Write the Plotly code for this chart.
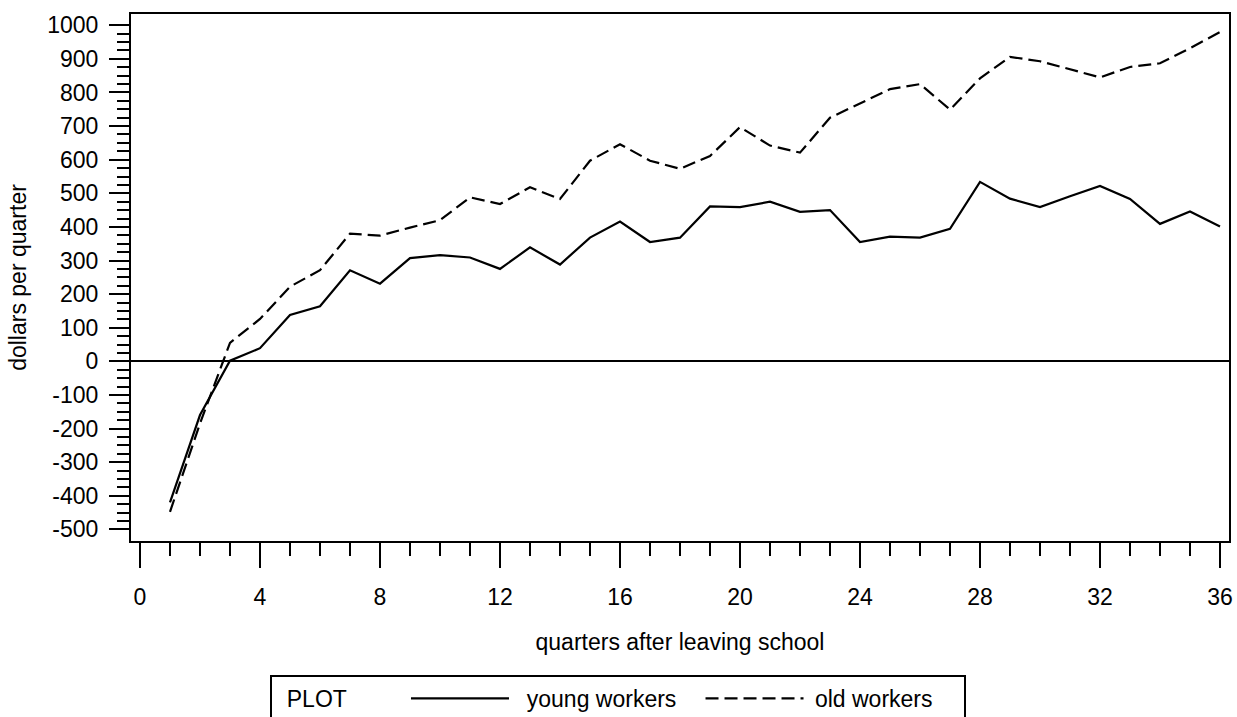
import plotly.graph_objects as go

quarters = list(range(1, 37))
young = [-420, -160, 2, 39, 138, 164, 271, 231, 307, 316, 309, 275,
         339, 288, 368, 416, 355, 368, 461, 459, 475, 445, 450, 355,
         371, 368, 394, 534, 484, 459, 491, 522, 483, 409, 446, 401]
old = [-448, -185, 55, 126, 222, 271, 380, 374, 398, 420, 488, 468,
       518, 483, 597, 646, 597, 573, 611, 697, 642, 621, 725, 767,
       810, 825, 749, 842, 906, 893, 868, 845, 876, 887, 932, 980]

y_ticks = list(range(-500, 1001, 100))
y_ticklabels = [str(v) for v in y_ticks]
y_minor = [v for v in range(-500, 1001, 25) if v % 100 != 0]
x_ticks = list(range(0, 37, 4))
x_ticklabels = [str(v) for v in x_ticks]
x_minor = [v for v in range(0, 37) if v % 4 != 0]

FONT = "Liberation Sans"
FS = 23
NB = "\u00a0"

W, H = 1237, 717
PL, PR, PT, PB = 131, 8, 14, 176

fig = go.Figure()
fig.add_trace(go.Scatter(x=quarters, y=young, mode="lines",
                         name=NB * 2 + "young workers" + NB * 3,
                         line=dict(color="black", width=2.2, dash="solid")))
fig.add_trace(go.Scatter(x=quarters, y=old, mode="lines",
                         name=NB + "old workers" + NB * 4,
                         line=dict(color="black", width=2.2, dash="13px,6px")))

plot_w = W - PL - PR
plot_h = H - PT - PB

fig.update_layout(
    width=W, height=H,
    margin=dict(l=PL, r=PR, t=PT, b=PB, autoexpand=False),
    paper_bgcolor="white", plot_bgcolor="white",
    font=dict(family=FONT, size=FS, color="black"),
    showlegend=True,
    legend=dict(
        orientation="h", x=(270 - PL) / plot_w, y=(H - PB - 675) / plot_h,
        xanchor="left", yanchor="top",
        bordercolor="black", borderwidth=2,
        font=dict(family=FONT, size=FS, color="black"),
        title=dict(text=NB * 2 + "PLOT" + NB * 8, side="left",
                   font=dict(family=FONT, size=FS)),
        itemwidth=98,
        traceorder="normal",
    ),
)

fig.update_xaxes(
    range=[-0.3, 36.3], showgrid=False, zeroline=False,
    showline=True, linecolor="black", linewidth=2, mirror=True,
    tickmode="array", tickvals=x_ticks, ticktext=x_ticklabels,
    ticks="outside", ticklen=25, tickwidth=2, tickcolor="black",
    minor=dict(tickmode="array", tickvals=x_minor, ticks="outside",
               ticklen=13, tickwidth=2, tickcolor="black", showgrid=False),
    ticklabelstandoff=9,
    tickfont=dict(family=FONT, size=FS),
    title=dict(text="quarters after leaving school", standoff=25,
               font=dict(family=FONT, size=FS)),
    automargin=False,
)
fig.update_yaxes(
    range=[-534.8, 1033.6], showgrid=False,
    zeroline=True, zerolinecolor="black", zerolinewidth=2,
    showline=True, linecolor="black", linewidth=2, mirror=True,
    tickmode="array", tickvals=y_ticks, ticktext=y_ticklabels,
    ticks="outside", ticklen=20, tickwidth=2, tickcolor="black",
    minor=dict(tickmode="array", tickvals=y_minor, ticks="outside",
               ticklen=12, tickwidth=2, tickcolor="black", showgrid=False),
    ticklabelstandoff=6,
    tickfont=dict(family=FONT, size=FS),
    title=dict(text="dollars per quarter", standoff=14,
               font=dict(family=FONT, size=FS)),
    automargin=False,
)

fig.write_html(
    "out.html",
    config={"displayModeBar": False},
    post_script="document.body.style.margin='0px';"
                "document.body.style.overflow='hidden';",
)
